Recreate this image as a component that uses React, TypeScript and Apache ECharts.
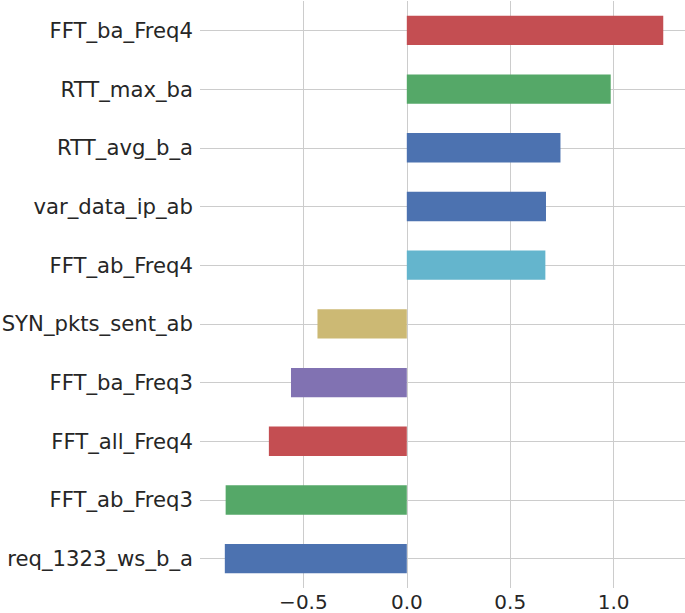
import React, { useEffect, useRef } from "react";
import * as echarts from "echarts";

// bottom-to-top order (as drawn on the category axis)
const categories = [
  "req_1323_ws_b_a",
  "FFT_ab_Freq3",
  "FFT_all_Freq4",
  "FFT_ba_Freq3",
  "SYN_pkts_sent_ab",
  "FFT_ab_Freq4",
  "var_data_ip_ab",
  "RTT_avg_b_a",
  "RTT_max_ba",
  "FFT_ba_Freq4",
];
const values = [-0.88, -0.876, -0.667, -0.56, -0.432, 0.67, 0.673, 0.743, 0.986, 1.24];
const barColors = [
  "#4C72B0",
  "#55A868",
  "#C44E52",
  "#8172B2",
  "#CCB974",
  "#64B5CD",
  "#4C72B0",
  "#4C72B0",
  "#55A868",
  "#C44E52",
];
const xTickValues = [-0.5, 0, 0.5, 1.0];

export default function App() {
  const ref = useRef<HTMLDivElement>(null);
  useEffect(() => {
    if (!ref.current) return;
    const chart = echarts.init(ref.current, null, { renderer: "svg" });
    const font = "DejaVu Sans";
    chart.setOption({
      animation: false,
      backgroundColor: "#ffffff",
      grid: {
        left: 200,
        top: 1,
        width: 486,
        height: 587,
        containLabel: false,
        outerBoundsMode: "none",
      },
      xAxis: {
        type: "value",
        min: -1,
        max: 1.35,
        interval: 0.5,
        axisLine: { show: false },
        axisTick: { show: false },
        splitLine: {
          show: true,
          showMinLine: false,
          showMaxLine: false,
          lineStyle: { color: "#cccccc", width: 1 },
        },
        axisLabel: {
          margin: 4,
          fontFamily: font,
          fontSize: 20,
          lineHeight: 20,
          color: "#262626",
          showMinLabel: false,
          showMaxLabel: false,
          formatter: (v: number) => {
            const hit = xTickValues.find((t) => Math.abs(t - v) < 1e-9);
            if (hit === undefined) return "";
            return (hit < 0 ? "\u2212" : "") + Math.abs(hit).toFixed(1);
          },
        },
      },
      yAxis: {
        type: "category",
        data: categories,
        axisLine: { show: false },
        axisTick: { show: false },
        splitLine: { show: false },
        axisLabel: {
          margin: 7,
          fontFamily: font,
          fontSize: 21.2,
          color: "#262626",
        },
      },
      series: [
        {
          type: "bar",
          z: 2,
          barWidth: "50%",
          data: values.map((v, i) => ({
            value: v,
            itemStyle: { color: barColors[i] },
          })),
          markLine: {
            silent: true,
            z: 1,
            symbol: "none",
            label: { show: false },
            lineStyle: { color: "#cccccc", width: 1, type: "solid" },
            data: categories.map((c) => ({ yAxis: c })),
          },
        },
      ],
    });
    return () => chart.dispose();
  }, []);
  return (
    <div
      ref={ref}
      style={{ position: "absolute", left: 0, top: 0, width: 685, height: 613 }}
    />
  );
}
